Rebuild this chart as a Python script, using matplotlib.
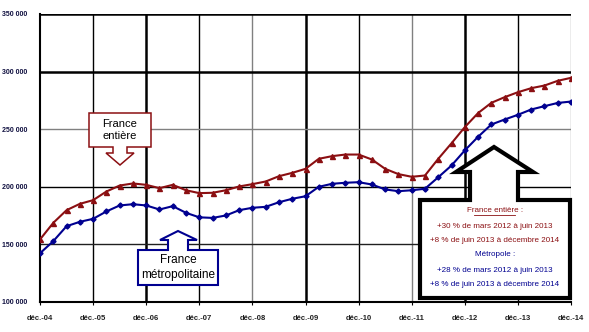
import numpy as np
import matplotlib
matplotlib.use("Agg")
import matplotlib.pyplot as plt
from matplotlib.patches import Polygon

plt.rcParams["font.family"] = ["Liberation Sans Narrow", "Liberation Sans", "DejaVu Sans"]

# quarterly values, déc. 2004 -> déc. 2014
france_entiere = [154300, 168700, 179700, 185200, 188400, 195900, 201100, 202900, 201700, 198800,
                  201700, 197000, 194500, 194800, 197000, 200300, 202300, 204600, 209200, 212100,
                  215600, 224300, 226600, 228000, 228000, 223700, 215600, 211000, 208700, 209800,
                  224300, 237800, 251800, 264000, 272900, 277800, 282100, 285600, 287900, 292000,
                  294600]
metropole = [142300, 152800, 165800, 169600, 172200, 178600, 183800, 184900, 183800, 180300,
             183200, 177400, 173500, 173000, 175100, 179700, 181800, 182600, 186600, 189600,
             191800, 200000, 202600, 203500, 204000, 202000, 197700, 196200, 197000, 198300,
             208300, 218500, 231600, 243400, 254100, 258400, 262500, 267100, 270000, 272800,
             274000]
xlabels = ["déc.-04", "déc.-05", "déc.-06", "déc.-07", "déc.-08", "déc.-09",
           "déc.-10", "déc.-11", "déc.-12", "déc.-13", "déc.-14"]
yticks = [100000, 150000, 200000, 250000, 300000, 350000]
ylabels = ["100 000", "150 000", "200 000", "250 000", "300 000", "350 000"]

RED = "#8b0f12"
BLUE = "#000090"
W, H = 589, 332

fig = plt.figure(figsize=(W / 100, H / 100), dpi=100)
ax = fig.add_axes([40 / W, 1 - 302 / H, 531 / W, 288 / H])

x = np.arange(len(france_entiere))
xt = np.arange(0, len(france_entiere), 4)

# grid
vstyle = [("k", 1.0), ("k", 1.8), ("k", 1.0), ("#808080", 1.0), ("k", 1.8),
          ("k", 1.0), ("#808080", 1.0), ("k", 1.8), ("k", 1.0), ("#a0a0a0", 1.0)]
for xv, (c, lw) in zip(xt[1:], vstyle):
    ax.axvline(xv, color=c, lw=lw, zorder=1)
hstyle = {150000: ("#202020", 1.0), 200000: ("k", 1.0), 250000: ("#808080", 1.0),
          300000: ("k", 1.8), 350000: ("k", 1.8)}
for yv, (c, lw) in hstyle.items():
    ax.axhline(yv, color=c, lw=lw, zorder=1)

ax.plot(x, france_entiere, color=RED, lw=1.5, marker="^", ms=3.6, zorder=3)
ax.plot(x, metropole, color=BLUE, lw=1.5, marker="D", ms=2.6, zorder=3)

ax.set_xlim(0, 40)
ax.set_ylim(100000, 350000)
ax.set_xticks(xt)
ax.set_xticklabels(xlabels, fontsize=5.5, fontweight="bold", color="#202020")
ax.set_yticks(yticks)
ax.set_yticklabels(ylabels, fontsize=5, color="#101040", ha="left", fontweight="bold")
ax.tick_params(axis="x", length=2, pad=7)
ax.tick_params(axis="y", length=0, pad=27)
for s in ["top", "right"]:
    ax.spines[s].set_visible(False)
for s in ["left", "bottom"]:
    ax.spines[s].set_linewidth(1.5)
    ax.spines[s].set_color("k")


def fpts(pts):
    return [(px / W, 1 - py / H) for px, py in pts]


def shape(pts, ec, lw):
    fig.patches.append(Polygon(fpts(pts), closed=True, transform=fig.transFigure,
                               facecolor="white", edgecolor=ec, lw=lw, zorder=5,
                               joinstyle="miter"))


# France entière callout (arrow pointing down)
shape([(89, 113), (151, 113), (151, 147), (127, 147), (127, 153), (134, 153), (120, 165),
       (106, 153), (113, 153), (113, 147), (89, 147)], RED, 1.1)
fig.text(120 / W, 1 - 130 / H, "France\nentière", ha="center", va="center",
         fontsize=8, family=["Liberation Sans", "DejaVu Sans"], linespacing=1.3, zorder=6)

# France métropolitaine callout (arrow pointing up)
shape([(138, 250), (168, 250), (168, 240), (160, 240), (178, 231), (197, 240), (188, 240),
       (188, 250), (218, 250), (218, 285), (138, 285)], BLUE, 1.5)
fig.text(178 / W, 1 - 267.5 / H, "France\nmétropolitaine", ha="center", va="center",
         fontsize=8.5, family=["Liberation Sans", "DejaVu Sans"], linespacing=1.3, zorder=6)

# big summary box
shape([(420, 200), (470, 200), (470, 172), (456, 172), (494, 147), (533, 172), (518, 172),
       (518, 200), (570, 200), (570, 298), (420, 298)], "k", 3)
lines = [("France entière :", RED, 211),
         ("+30 % de mars 2012 à juin 2013", RED, 226),
         ("+8 % de juin 2013 à décembre 2014", RED, 241),
         ("Métropole :", BLUE, 255),
         ("+28 % de mars 2012 à juin 2013", BLUE, 270),
         ("+8 % de juin 2013 à décembre 2014", BLUE, 285)]
for txt, c, yy in lines:
    fig.text(495 / W, 1 - yy / H, txt, ha="center", va="center", fontsize=5.8,
             color=c, zorder=6)
    if txt.startswith("France"):
        fig.lines.append(plt.Line2D([474 / W, 515 / W], [1 - 215 / H, 1 - 215 / H],
                                    transform=fig.transFigure, color=RED, lw=0.6, zorder=6))

fig.savefig("out.png", dpi=100)
